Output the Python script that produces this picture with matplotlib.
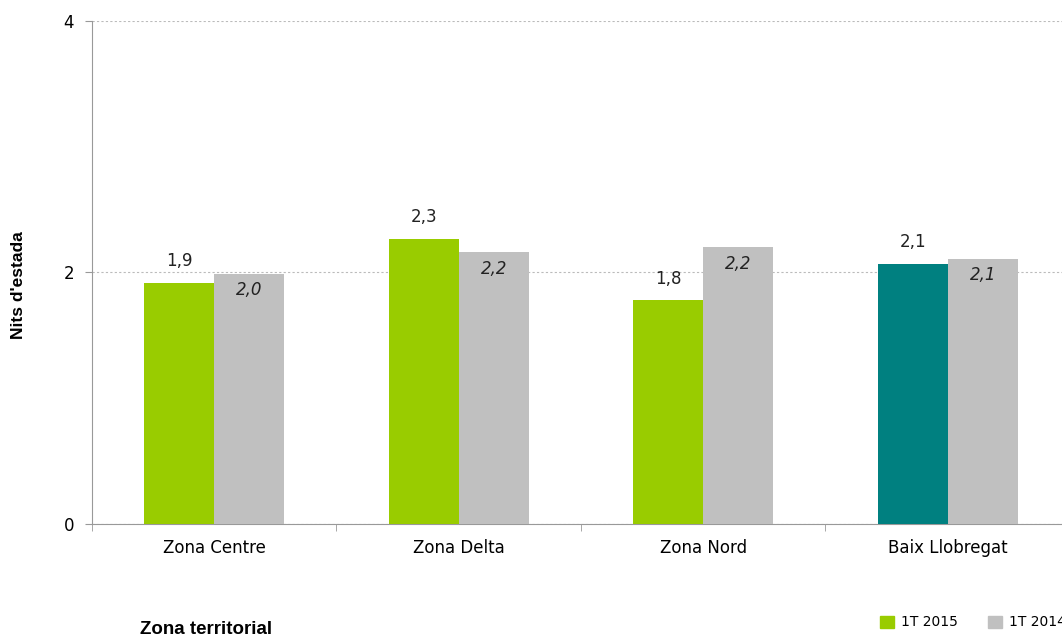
import numpy as np
import matplotlib.pyplot as plt
from matplotlib.patches import Patch

categories = ['Zona Centre', 'Zona Delta', 'Zona Nord', 'Baix Llobregat']
values_2015 = [1.92, 2.27, 1.78, 2.07]
values_2014 = [1.99, 2.16, 2.20, 2.11]
labels_2015 = ['1,9', '2,3', '1,8', '2,1']
labels_2014 = ['2,0', '2,2', '2,2', '2,1']
series_names = ['1T 2015', '1T 2014']

green = '#99CC00'
grey = '#C0C0C0'
teal = '#008080'

plt.rcParams['font.family'] = ['DejaVu Sans']

fig = plt.figure(figsize=(10.62, 6.42), dpi=100)
ax = fig.add_axes([0.0866, 0.1838, 0.9209, 0.7835])

x = np.arange(len(categories))
w = 0.287
colors_2015 = [green, green, green, teal]

ax.bar(x - w / 2, values_2015, w, color=colors_2015, zorder=3)
ax.bar(x + w / 2, values_2014, w, color=grey, zorder=3)

for i in range(len(categories)):
    ax.text(x[i] - w / 2, values_2015[i] + 0.1, labels_2015[i], ha='center', va='bottom',
            fontsize=12, color='#222222')
    ax.text(x[i] + w / 2, values_2014[i] - 0.06, labels_2014[i], ha='center', va='top',
            fontsize=12, style='italic', color='#222222')

ax.set_xlim(-0.5, len(categories) - 0.5)
ax.set_ylim(0, 4)
ax.set_yticks([0, 2, 4])
ax.set_yticklabels(['0', '2', '4'], fontsize=12)
ax.yaxis.grid(True, linestyle=(0, (2, 2)), color='#BBBBBB', linewidth=0.8, zorder=0)

ax.set_xticks(x)
ax.set_xticklabels(categories, fontsize=12)
ax.set_xticks(np.arange(-0.5, len(categories), 1), minor=True)
ax.tick_params(axis='x', which='major', length=0, pad=11)
ax.tick_params(axis='x', which='minor', length=5, color='#999999')
ax.tick_params(axis='y', length=5, color='#999999', pad=8)

for s in ['top', 'right']:
    ax.spines[s].set_visible(False)
ax.spines['left'].set_color('#999999')
ax.spines['bottom'].set_color('#999999')

fig.text(0.017, 0.556, "Nits d'estada", rotation=90, ha='center', va='center',
         fontsize=12.5, fontweight='bold', family=['Liberation Sans'])
fig.text(0.132, 0.006, 'Zona territorial', ha='left', va='bottom', fontsize=13.5,
         fontweight='bold', family=['Liberation Sans'])

handles = [Patch(color=green), Patch(color=grey)]
fig.legend(handles, series_names, loc='lower left', bbox_to_anchor=(0.817, 0.0), ncol=2,
           frameon=False, fontsize=10, handlelength=1.0, handleheight=1.0,
           handletextpad=0.5, columnspacing=2.2)

fig.savefig('out.png', dpi=100)
